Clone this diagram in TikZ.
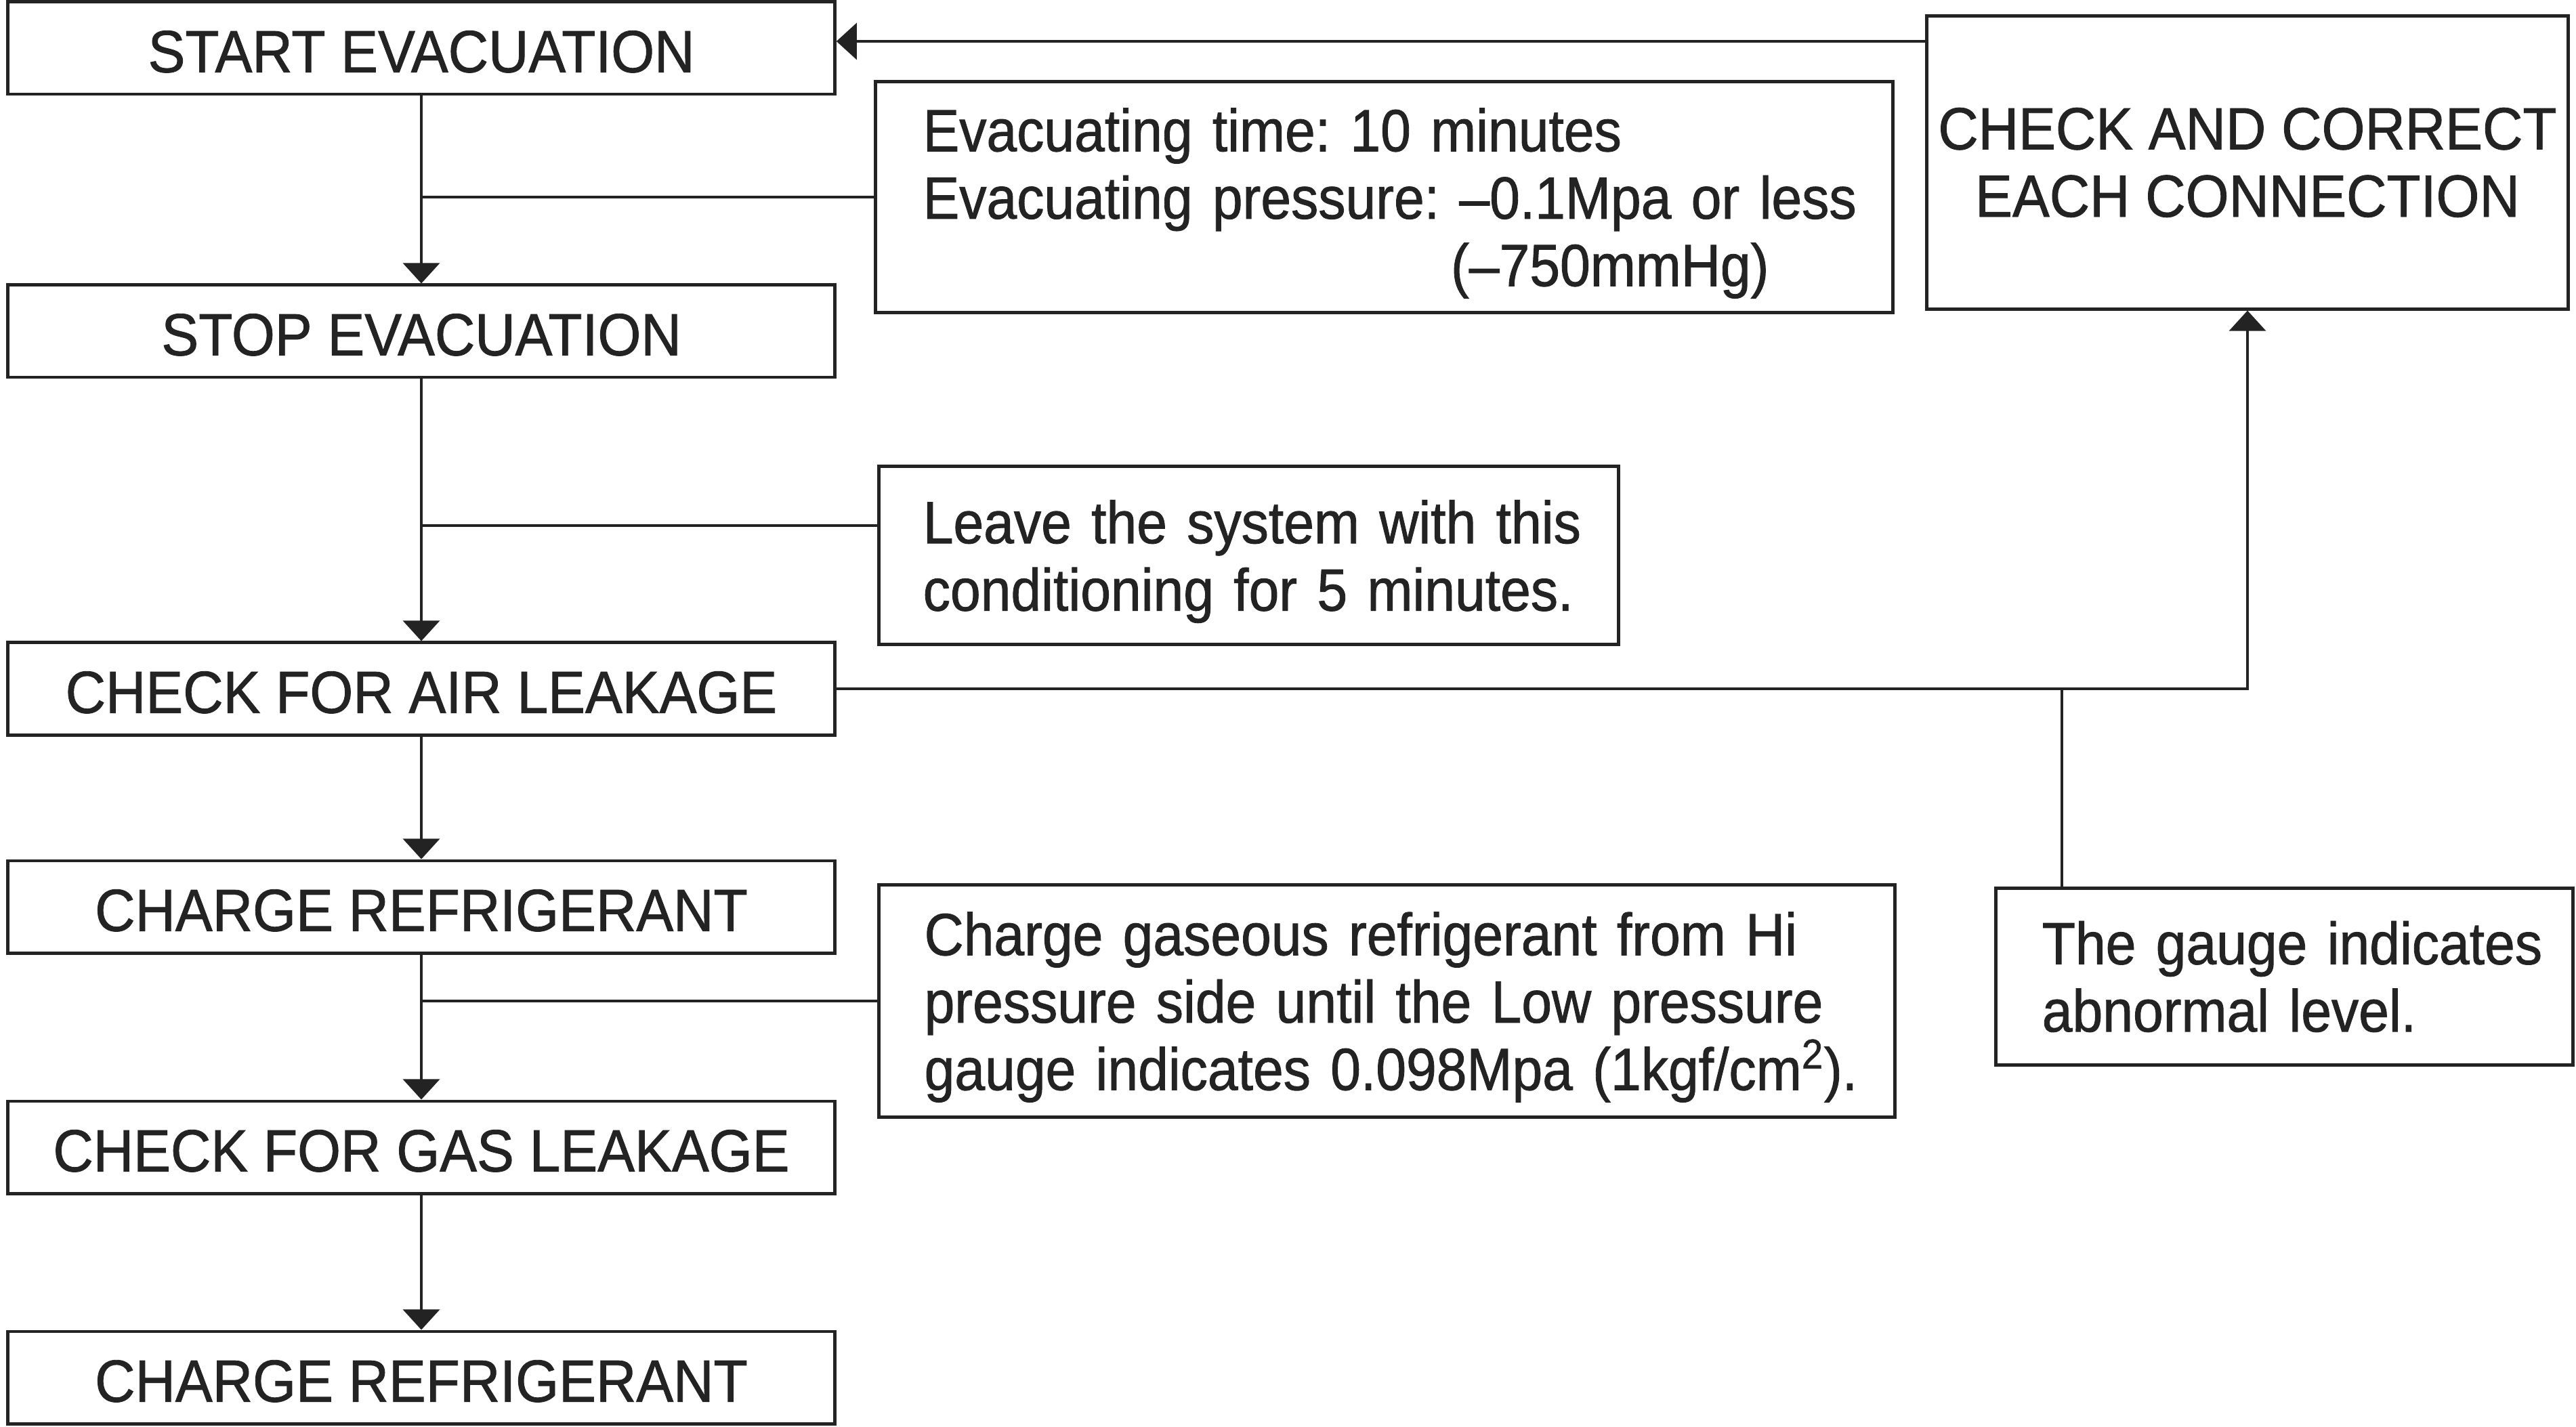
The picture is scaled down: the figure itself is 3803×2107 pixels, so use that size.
\documentclass[tikz,border=0pt]{standalone}
\usepackage{fontspec}
\setmainfont{Liberation Sans}[FakeStretch=0.935,FakeBold=1]
\newfontfamily\notefont{Liberation Sans}[FakeStretch=0.915,FakeBold=1]
\usetikzlibrary{arrows.meta,calc}
\definecolor{ink}{RGB}{35,35,35}
\newcommand{\keepline}[1]{\mbox{#1}}
\newcommand{\lastline}[1]{\smash{\mbox{#1}}}
\frenchspacing
\begin{document}
\begin{tikzpicture}[x=0.01cm,y=-0.01cm,
  every node/.style={font=\fontsize{25pt}{28.3pt}\selectfont\frenchspacing, text=ink},
  stepbox/.style={draw=ink, line width=1.4pt, minimum width=12.2cm, minimum height=1.36cm, inner sep=0pt, text height=20.5pt},
  notebox/.style={draw=ink, line width=1.4pt, align=left, inner ysep=0pt, font=\notefont\fontsize{25pt}{28.3pt}\selectfont\frenchspacing},
  conn/.style={draw=ink, line width=0.9pt},
  arr/.style={conn, -{Triangle[length=0.3cm,width=0.54cm]}}
]
\useasboundingbox (0,0) rectangle (3803,2107);

% main flow boxes
\node[stepbox] (b1) at (622,71)   {START EVACUATION};
\node[stepbox] (b2) at (622,489)  {STOP EVACUATION};
\node[stepbox] (b3) at (622,1017) {CHECK FOR AIR LEAKAGE};
\node[stepbox] (b4) at (622,1339) {CHARGE REFRIGERANT};
\node[stepbox] (b5) at (622,1694) {CHECK FOR GAS LEAKAGE};
\node[stepbox] (b6) at (622,2034) {CHARGE REFRIGERANT};

% notes
\node[notebox, inner xsep=0.7cm, text width=13.61cm, minimum height=3.4cm] (n1) at (2043.5,291)
  {\keepline{Evacuating time: 10 minutes}\\
   \keepline{Evacuating pressure: –0.1Mpa or less}\\
   \lastline{\hspace*{7.79cm}(–750mmHg)}};
\node[notebox, inner xsep=0.65cm, text width=9.61cm, minimum height=2.62cm] (n2) at (1843.5,820)
  {\keepline{Leave the system with this}\\
   \lastline{conditioning for 5 minutes.}};
\node[notebox, inner xsep=0.67cm, text width=13.65cm, minimum height=3.42cm] (n3) at (2047.5,1478)
  {\keepline{Charge gaseous refrigerant from Hi}\\
   \keepline{pressure side until the Low pressure}\\
   \lastline{gauge indicates 0.098Mpa (1kgf/cm\textsuperscript{2}).}};

% right side
\node[draw=ink, line width=1.4pt, align=center, minimum width=9.46cm, minimum height=4.32cm, inner sep=0pt] (rbox) at (3318,240)
  {CHECK AND CORRECT\\EACH CONNECTION};
\node[notebox, inner xsep=0.68cm, text width=7.15cm, minimum height=2.6cm] (gbox) at (3372.5,1442)
  {\keepline{The gauge indicates}\\
   \keepline{abnormal level.}};

% main arrows
\draw[arr] (b1.south) -- (b2.north);
\draw[arr] (b2.south) -- (b3.north);
\draw[arr] (b3.south) -- (b4.north);
\draw[arr] (b4.south) -- (b5.north);
\draw[arr] (b5.south) -- (b6.north);

% note connectors
\draw[conn] (n1.west) -- (n1.west -| b1.south);
\coordinate (j2) at (622,776);
\draw[conn] (j2) -- (j2 -| n2.west);
\draw[conn] (n3.west) -- (n3.west -| b4.south);

% loop back
\draw[arr] (b3.east) -| (rbox.south);
\coordinate (top) at (2845,61);
\draw[arr] (top) -- (top -| b1.east);
\coordinate (g1) at (3044,1017);
\draw[conn] (g1) -- (g1 |- gbox.north);
\end{tikzpicture}
\end{document}
